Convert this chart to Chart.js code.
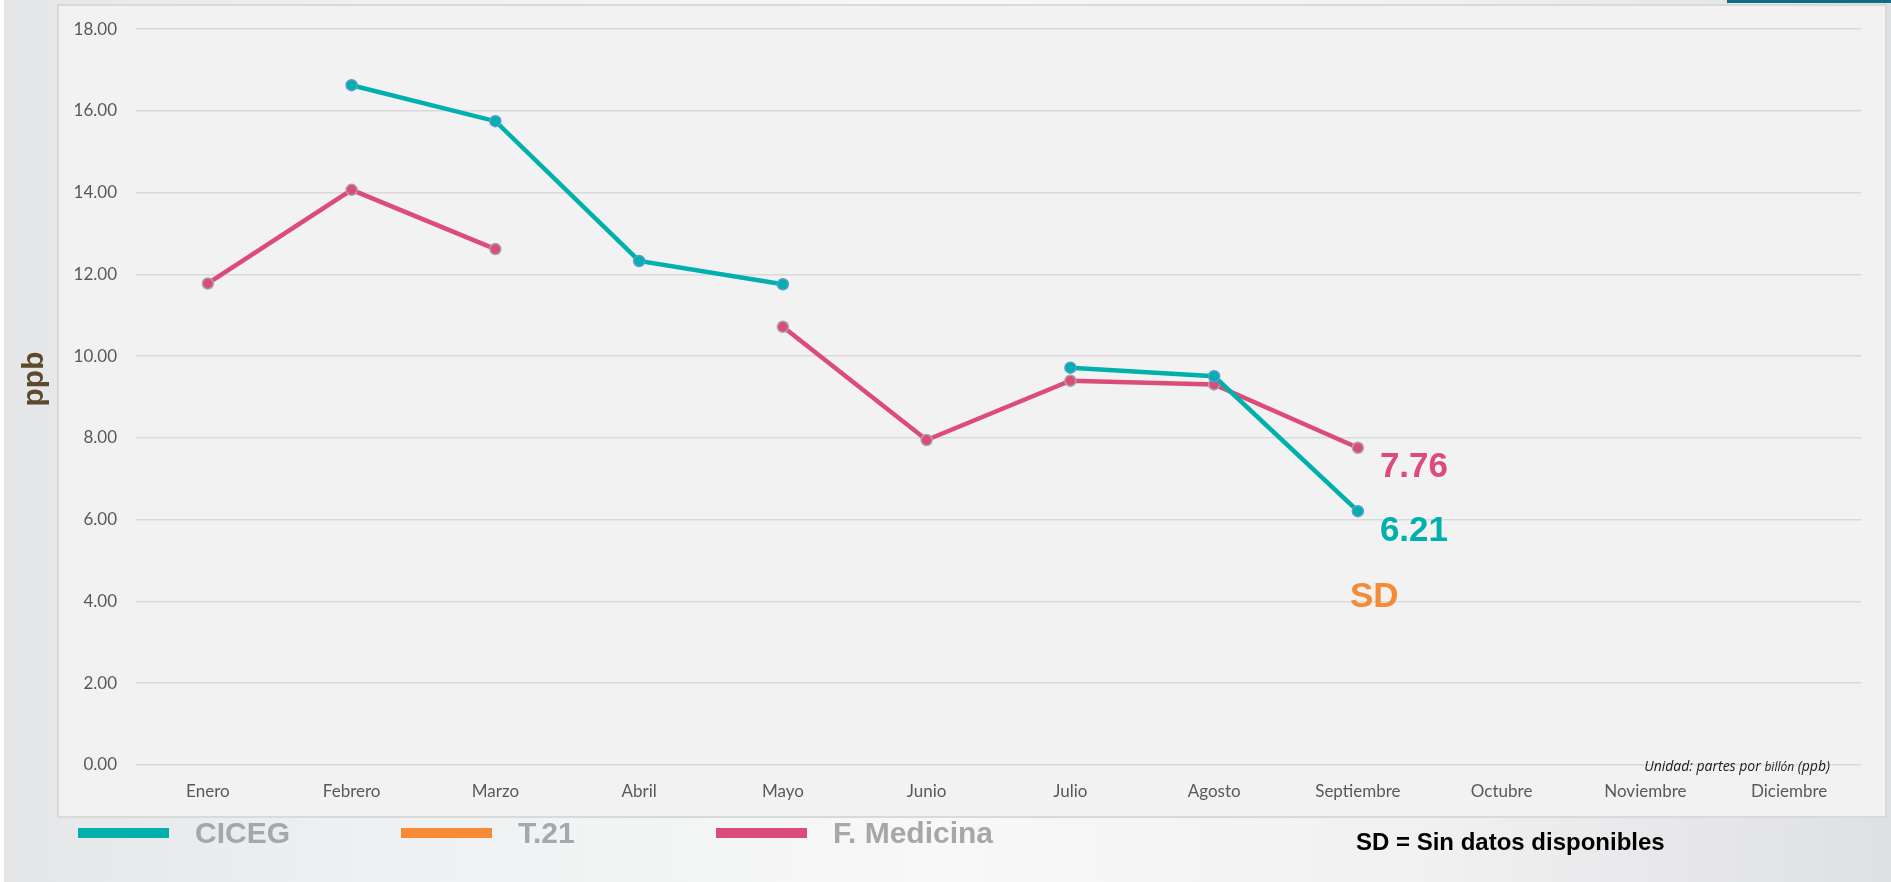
<!DOCTYPE html>
<html>
<head>
<meta charset="utf-8">
<script src="https://cdn.jsdelivr.net/npm/chart.js@4.4.1/dist/chart.umd.min.js"></script>
<style>
    html, body { margin: 0; padding: 0; }
    body {
        width: 1891px;
        height: 882px;
        position: relative;
        overflow: hidden;
        background: linear-gradient(to right, #fff 0, #fff 4px, #e5e6e8 4px, #eef0f1 20%, #f8f8f8 50%, #f1f1f2 75%, #dfe0e2 100%);
        font-family: "Liberation Sans", Arial, sans-serif;
    }
    #topBar { position: absolute; left: 1727px; top: 0; width: 164px; height: 3px; background: #0d6c88; }
    #panel {
        position: absolute; left: 57px; top: 4px; width: 1826px; height: 810px;
        background: #f2f2f2; border: 2px solid #d9d9d9;
    }
    #chartBox { position: absolute; left: 0; top: 0; width: 1891px; height: 882px; }
    .legend-item { position: absolute; top: 817px; height: 32px; display: flex; align-items: center; }
    .legend-item .swatch { width: 91px; height: 10px; margin-right: 26px; }
    .legend-item .name { font-weight: bold; font-size: 30px; color: #a5a7aa; white-space: nowrap; }
    #sdNote { position: absolute; left: 1356px; top: 828px; font-weight: bold; font-size: 24px; color: #000; }
    #unitNote {
        position: absolute; right: 61px; top: 756px; font-style: italic; font-size: 14px; color: #1a1a1a;
        font-family: "Open Sans", sans-serif;
    }
    #unitNote small { font-size: 12px; }
</style>
</head>
<body>
<div id="topBar"></div>
<div id="panel"></div>
<div id="chartBox"><canvas id="ppbChart" width="1891" height="882"></canvas></div>
<div id="legend"></div>
<div id="unitNote">Unidad: partes por <small>billón</small> (ppb)</div>
<div id="sdNote">SD = Sin datos disponibles</div>

<script>
// Months on the x axis
const months = ['Enero', 'Febrero', 'Marzo', 'Abril', 'Mayo', 'Junio', 'Julio', 'Agosto',
    'Septiembre', 'Octubre', 'Noviembre', 'Diciembre'];

// Monthly averages per station (ppb), null = no data
const cicegValues = [null, 16.63, 15.75, 12.33, 11.76, null, 9.72, 9.51, 6.21, null, null, null];
const t21Values = [null, null, null, null, null, null, null, null, null, null, null, null];
const medicinaValues = [11.78, 14.07, 12.62, null, 10.72, 7.95, 9.40, 9.31, 7.76, null, null, null];

const stationNames = ['CICEG', 'T.21', 'F. Medicina'];
const stationColors = ['#00b0ad', '#f68a36', '#dc4c78'];
const pointBorders = ['#5b9bd5', '#a5a5a5', '#a5a5a5'];

// Y axis ticks
const yMin = 0;
const yMax = 18;
const yStep = 2;

// Label for the last month with data: value, or SD when missing
const lastValuesPlugin = {
    id: 'lastValues',
    afterDatasetsDraw(chart) {
        const ctx = chart.ctx;
        const yScale = chart.scales.y;
        const xScale = chart.scales.x;
        let lastIdx = -1;
        chart.data.datasets.forEach(ds => {
            ds.data.forEach((v, i) => { if (v !== null && i > lastIdx) lastIdx = i; });
        });
        if (lastIdx < 0) return;
        ctx.save();
        ctx.font = 'bold 35px "Liberation Sans", Arial, sans-serif';
        ctx.textBaseline = 'middle';
        ctx.textAlign = 'left';
        chart.data.datasets.forEach((ds, di) => {
            const v = ds.data[lastIdx];
            ctx.fillStyle = ds.borderColor;
            if (v === null) {
                ctx.fillText('SD', xScale.getPixelForValue(lastIdx) - 8, yScale.getPixelForValue(4.1));
            } else {
                const pt = chart.getDatasetMeta(di).data[lastIdx];
                ctx.fillText(v.toFixed(2), pt.x + 22, pt.y + 20);
            }
        });
        ctx.restore();
    }
};

// "ppb" axis title, drawn rotated at the left
const axisTitlePlugin = {
    id: 'axisTitle',
    afterDraw(chart) {
        const ctx = chart.ctx;
        ctx.save();
        ctx.translate(35, 379);
        ctx.rotate(-Math.PI / 2);
        ctx.font = 'bold 30px "Liberation Sans", Arial, sans-serif';
        ctx.fillStyle = '#5b4a2b';
        ctx.textAlign = 'center';
        ctx.textBaseline = 'middle';
        ctx.fillText('ppb', 0, 0);
        ctx.restore();
    }
};

const seriesValues = [cicegValues, t21Values, medicinaValues];
const datasets = seriesValues.map((vals, i) => ({
    label: stationNames[i],
    data: vals,
    borderColor: stationColors[i],
    backgroundColor: stationColors[i],
    borderWidth: 4.5,
    pointRadius: 5.5,
    pointBorderWidth: 1.5,
    pointBackgroundColor: stationColors[i],
    pointBorderColor: pointBorders[i],
    spanGaps: false,
    tension: 0
}));

const tickFont = { family: 'Lato, "Open Sans", sans-serif', size: 17 };

new Chart(document.getElementById('ppbChart'), {
    type: 'line',
    data: { labels: months, datasets },
    options: {
        responsive: false,
        animation: false,
        layout: { padding: { left: 0, right: 30, top: 29, bottom: 0 } },
        plugins: {
            legend: { display: false },
            tooltip: { enabled: false }
        },
        scales: {
            x: {
                offset: true,
                grid: { display: false, drawTicks: false, offset: true },
                border: { display: false },
                ticks: { color: '#595959', font: tickFont, padding: 16, maxRotation: 0 },
                afterFit(scale) { scale.height = 117; }
            },
            y: {
                min: yMin,
                max: yMax,
                grid: { color: '#d9d9d9', lineWidth: 1.5, drawTicks: false },
                border: { display: false },
                ticks: {
                    stepSize: yStep,
                    color: '#595959',
                    font: tickFont,
                    padding: 19,
                    callback: v => v.toFixed(2)
                },
                afterFit(scale) { scale.width = 136; }
            }
        }
    },
    plugins: [lastValuesPlugin, axisTitlePlugin]
});

// HTML legend built from the same series
const legendLefts = [78, 401, 716];
const legendEl = document.getElementById('legend');
stationNames.forEach((name, i) => {
    const item = document.createElement('div');
    item.className = 'legend-item';
    item.style.left = legendLefts[i] + 'px';
    item.innerHTML = `<span class="swatch" style="background:${stationColors[i]}"></span><span class="name">${name}</span>`;
    legendEl.appendChild(item);
});
</script>
</body>
</html>
